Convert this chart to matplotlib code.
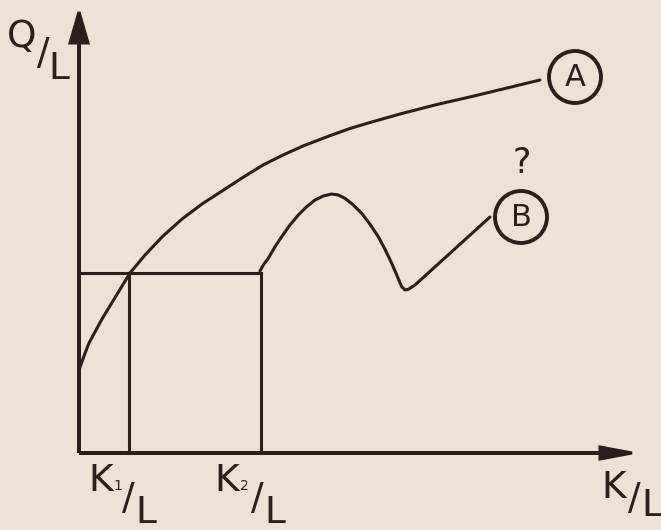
import matplotlib
matplotlib.use("Agg")
import matplotlib.pyplot as plt
from matplotlib.patches import Circle

# ---- data (origin at the axes corner) ----
curve_a_x = [0, 5, 10, 23, 37, 51, 66, 83, 103, 123, 143, 163, 184, 204, 224, 250, 271, 291,
             321, 358, 395, 424, 461]
curve_a_y = [83, 97, 110, 134, 157, 180, 198, 216, 234, 249, 262, 275, 288, 298, 307, 317, 324.5, 330.5,
             339, 348.5, 357, 364, 373]

curve_b_x = [181, 184.3, 189.3, 196, 202.7, 211, 219.3, 227.7, 236, 244.3, 252.7, 259.3, 266, 274.3,
             282.7, 291, 299.3, 306, 312.7, 317.7, 322.7, 326, 329.3, 336, 411]
curve_b_y = [182, 188, 194.7, 206.3, 216.3, 228, 238, 246.3, 253, 257, 259, 258, 254.7, 248,
             239.7, 228.7, 216.3, 203.7, 189.7, 178, 166.3, 163, 163.7, 168, 236]

q_level = 180.5          # common output level
k1 = 50                  # K1/L
k2 = 182                 # K2/L

x_axis_end = 553
y_axis_end = 441

labels = {"A": (496, 376), "B": (442, 236)}
circle_r = 26

BG = "#ebe3d5"
INK = "#2a1f1c"

fig = plt.figure(figsize=(6.61, 5.30), dpi=100)
fig.patch.set_facecolor(BG)
ax = fig.add_axes([0, 0, 1, 1])
ax.set_facecolor(BG)
ax.set_xlim(-79, 582)
ax.set_ylim(-77, 453)
ax.axis("off")

lw = 2.2
# axes with arrows
ax.arrow(0, 0, x_axis_end, 0, width=0.0, head_width=12, head_length=32,
         length_includes_head=True, color=INK, lw=lw, fc=INK, ec=INK)
ax.arrow(0, 0, 0, y_axis_end, width=0.0, head_width=18, head_length=31,
         length_includes_head=True, color=INK, lw=lw, fc=INK, ec=INK)

# curves
ax.plot(curve_a_x, curve_a_y, color=INK, lw=lw, solid_capstyle="round", solid_joinstyle="round")
ax.plot(curve_b_x, curve_b_y, color=INK, lw=lw, solid_capstyle="round", solid_joinstyle="round")

# rectangle guides
ax.plot([0, k2], [q_level, q_level], color=INK, lw=lw)
ax.plot([k1, k1], [0, q_level], color=INK, lw=lw)
ax.plot([k2, k2], [0, q_level], color=INK, lw=lw)

# circled labels
for name, (cx, cy) in labels.items():
    ax.add_patch(Circle((cx, cy), circle_r, fill=False, ec=INK, lw=2.8))
    ax.text(cx, cy, name, ha="center", va="center", fontsize=22, color=INK,
            family="DejaVu Sans")

ax.text(443, 290, "?", ha="center", va="center", fontsize=25, color=INK,
        family="DejaVu Sans")

fs = 27
kw = dict(ha="center", va="center", color=INK, family="DejaVu Sans")
# Q/L
ax.text(-57.5, 416, "Q", fontsize=fs, **kw)
ax.text(-36, 399, "/", fontsize=fs, **kw)
ax.text(-20, 384, "L", fontsize=fs, **kw)

# K1/L
ax.text(21.5, -28, "K", fontsize=fs, **kw)
ax.text(38.5, -33, "1", fontsize=10, **kw)
ax.text(49, -46, "/", fontsize=fs, **kw)
ax.text(67, -60, "L", fontsize=fs, **kw)

# K2/L
ax.text(147.5, -28, "K", fontsize=fs, **kw)
ax.text(165.5, -33, "2", fontsize=10, **kw)
ax.text(178, -46, "/", fontsize=fs, **kw)
ax.text(196, -60, "L", fontsize=fs, **kw)

# K/L
ax.text(534.5, -34.5, "K", fontsize=fs, **kw)
ax.text(555, -46, "/", fontsize=fs, **kw)
ax.text(572.5, -53.5, "L", fontsize=fs, **kw)

fig.savefig("out.png", dpi=100, facecolor=BG)
